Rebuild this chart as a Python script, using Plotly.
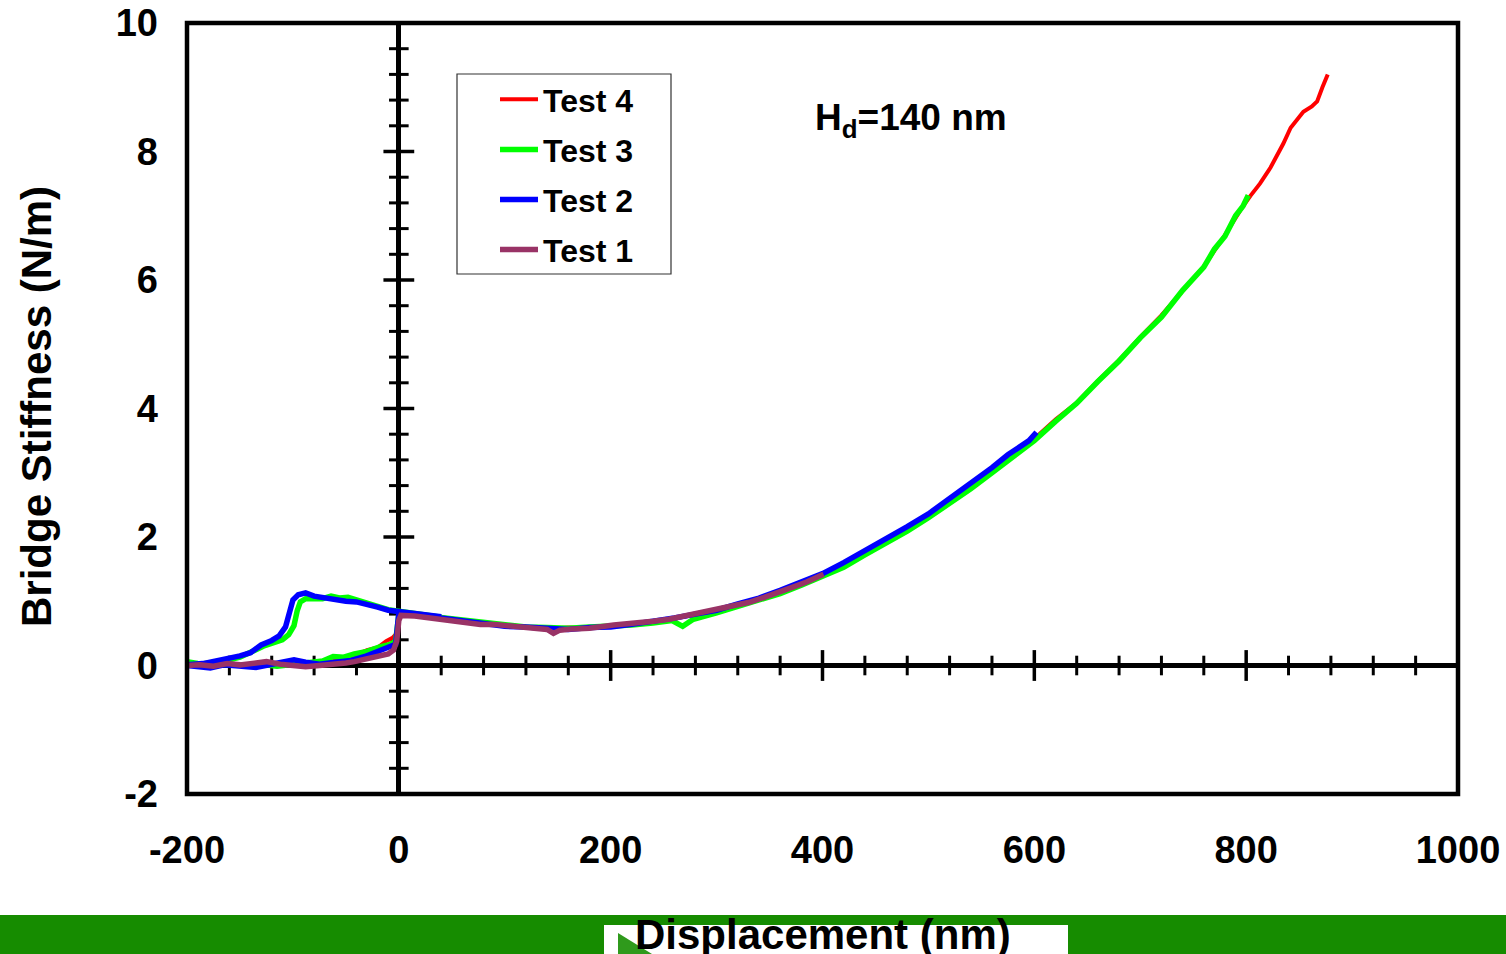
import plotly.graph_objects as go

# ---------------- data ----------------
t4_x = [-200, -185, -170, -155, -140, -125, -110, -95, -80, -65, -50, -40, -30, -20, -12, -6, -2, 0,
        10, 20, 40, 60, 80, 100, 120, 140, 160, 180, 200, 220, 240, 260, 280, 300, 320, 340, 360, 380,
        400, 420, 440, 460, 480, 500, 520, 540, 560, 580, 600, 620, 640, 660, 680, 700, 720, 740, 760,
        780, 795, 804, 813, 823, 835, 842, 848, 854, 862, 867, 872, 877]
t4_y = [0.03, 0.01, 0.03, 0.00, -0.02, 0.01, 0.02, 0.00, 0.03, 0.05, 0.12, 0.17, 0.24, 0.28, 0.38, 0.43, 0.50, 0.78,
        0.79, 0.76, 0.73, 0.69, 0.64, 0.62, 0.59, 0.57, 0.59, 0.58, 0.61, 0.64, 0.68, 0.73, 0.79, 0.86, 0.95, 1.03, 1.14, 1.27,
        1.40, 1.57, 1.74, 1.93, 2.12, 2.34, 2.56, 2.77, 3.04, 3.28, 3.53, 3.83, 4.09, 4.43, 4.75, 5.11, 5.45, 5.83, 6.21,
        6.70, 7.10, 7.31, 7.50, 7.75, 8.12, 8.37, 8.50, 8.62, 8.70, 8.78, 9.00, 9.20]

t3_x = [-200, -190, -175, -160, -145, -130, -115, -100, -85, -72, -62, -52, -42, -30, -18, -8, -3, 0,
        10, 25, 40, 60, 80, 100, 120, 140, 160, 180, 200, 220, 240, 258, 268, 278, 300, 320, 340, 360, 380,
        400, 420, 440, 460, 480, 500, 520, 540, 560, 580, 600, 620, 640, 660, 680, 700, 720, 740, 760,
        770, 780, 790, 797, 802]
t3_y = [0.06, 0.03, 0.01, 0.02, 0.00, 0.02, -0.01, 0.02, 0.04, 0.07, 0.14, 0.13, 0.18, 0.22, 0.29, 0.33, 0.38, 0.80,
        0.80, 0.77, 0.74, 0.70, 0.66, 0.63, 0.60, 0.59, 0.58, 0.60, 0.61, 0.63, 0.66, 0.70, 0.61, 0.72, 0.82, 0.92, 1.01, 1.12, 1.25,
        1.38, 1.53, 1.72, 1.90, 2.09, 2.30, 2.52, 2.75, 3.00, 3.25, 3.50, 3.80, 4.08, 4.42, 4.74, 5.10, 5.42, 5.84, 6.20,
        6.48, 6.68, 7.00, 7.15, 7.32]
t3_ret_x = [40, 20, 0, -10, -20, -30, -40, -48, -56, -64, -72, -80, -88, -93, -96, -99, -104, -110, -118,
            -128, -138, -150, -162, -175, -188, -200]
t3_ret_y = [0.75, 0.80, 0.85, 0.87, 0.92, 0.97, 1.03, 1.06, 1.05, 1.08, 1.04, 1.05, 1.04, 0.99, 0.85, 0.62, 0.48, 0.40, 0.36,
            0.30, 0.22, 0.13, 0.08, 0.04, 0.02, 0.03]

t2_x = [-200, -190, -178, -165, -150, -135, -120, -108, -99, -88, -75, -60, -45, -32, -24, -15, -8, -3, 0,
        10, 25, 40, 60, 80, 100, 120, 140, 160, 180, 200, 220, 240, 260, 280, 300, 320, 340, 360, 380,
        400, 420, 440, 460, 480, 500, 520, 540, 560, 575, 585, 595, 602]
t2_y = [0.00, -0.02, -0.04, 0.01, -0.01, -0.03, 0.02, 0.05, 0.09, 0.05, 0.02, 0.05, 0.08, 0.14, 0.19, 0.24, 0.28, 0.33, 0.82,
        0.81, 0.78, 0.74, 0.69, 0.65, 0.61, 0.60, 0.57, 0.56, 0.59, 0.60, 0.64, 0.68, 0.74, 0.80, 0.86, 0.96, 1.05, 1.17, 1.30,
        1.43, 1.60, 1.78, 1.96, 2.16, 2.36, 2.60, 2.83, 3.08, 3.28, 3.38, 3.50, 3.63]
t2_ret_x = [40, 20, 0, -10, -20, -30, -40, -50, -60, -70, -80, -88, -95, -100, -103, -107, -113, -120,
            -130, -140, -150, -160, -170, -185, -200]
t2_ret_y = [0.76, 0.80, 0.84, 0.86, 0.91, 0.96, 0.99, 1.00, 1.02, 1.05, 1.08, 1.13, 1.10, 1.02, 0.80, 0.60, 0.46, 0.39,
            0.32, 0.20, 0.15, 0.11, 0.07, 0.03, 0.01]

t1_x = [-200, -188, -175, -162, -150, -138, -125, -112, -100, -88, -75, -62, -50, -42, -33, -24, -16, -10, -5, -2, 0, 2,
        15, 30, 45, 60, 77, 90, 105, 118, 132, 140, 146, 152, 165, 180, 203, 220, 240, 255, 266, 280, 297,
        315, 330, 345, 354, 360, 372, 385, 395, 401]
t1_y = [0.00, 0.01, -0.01, 0.03, 0.01, 0.04, 0.06, 0.02, 0.00, -0.02, 0.00, 0.01, 0.04, 0.06, 0.09, 0.12, 0.15, 0.18, 0.24, 0.38, 0.70, 0.78,
        0.77, 0.74, 0.71, 0.68, 0.64, 0.64, 0.62, 0.61, 0.58, 0.56, 0.50, 0.55, 0.57, 0.58, 0.63, 0.65, 0.69, 0.72, 0.76, 0.79, 0.86,
        0.92, 0.98, 1.06, 1.12, 1.15, 1.22, 1.30, 1.37, 1.42]

x_ticks = [-200, 0, 200, 400, 600, 800, 1000]
y_ticks = [-2, 0, 2, 4, 6, 8, 10]
x_major_marks = [200, 400, 600, 800]
x_minor_step = 40
y_major_marks = [2, 4, 6, 8]
y_minor_step = 0.4

# ---------------- layout helpers (pixels -> paper) ----------------
W, H = 1506, 954
L, R, T, B = 187, 1458, 23, 794


def pxx(p):
    return (p - L) / (R - L)


def pxy(p):
    return (B - p) / (B - T)


FONT = "Liberation Sans, Arial, sans-serif"

fig = go.Figure()

# tick marks on the zero axes
x_minor_marks = [v for v in range(-200 + x_minor_step, 1000, x_minor_step) if v not in x_major_marks and v != 0]
y_minor_marks = [round(-2 + y_minor_step * i, 1) for i in range(1, 30)]
y_minor_marks = [v for v in y_minor_marks if abs(v / 2 - round(v / 2)) > 1e-6]

fig.add_trace(go.Scatter(x=x_major_marks, y=[0] * len(x_major_marks), mode="markers",
                         marker=dict(symbol="line-ns", size=22, line=dict(width=3.5, color="black")),
                         showlegend=False, hoverinfo="skip"))
fig.add_trace(go.Scatter(x=x_minor_marks, y=[0] * len(x_minor_marks), mode="markers",
                         marker=dict(symbol="line-ns", size=14, line=dict(width=3, color="black")),
                         showlegend=False, hoverinfo="skip"))
fig.add_trace(go.Scatter(x=[0] * len(y_major_marks), y=y_major_marks, mode="markers",
                         marker=dict(symbol="line-ew", size=22, line=dict(width=3.5, color="black")),
                         showlegend=False, hoverinfo="skip"))
fig.add_trace(go.Scatter(x=[0] * len(y_minor_marks), y=y_minor_marks, mode="markers",
                         marker=dict(symbol="line-ew", size=14, line=dict(width=3, color="black")),
                         showlegend=False, hoverinfo="skip"))

fig.add_trace(go.Scatter(x=t4_x, y=t4_y, mode="lines", name="Test 4", legendgroup="t4",
                         line=dict(color="#FF0000", width=4)))
fig.add_trace(go.Scatter(x=t3_x + [None] + t3_ret_x, y=t3_y + [None] + t3_ret_y, mode="lines",
                         name="Test 3", legendgroup="t3", line=dict(color="#00FF00", width=5.5)))
fig.add_trace(go.Scatter(x=t2_x + [None] + t2_ret_x, y=t2_y + [None] + t2_ret_y, mode="lines",
                         name="Test 2", legendgroup="t2", line=dict(color="#0000FF", width=5.5)))
fig.add_trace(go.Scatter(x=t1_x, y=t1_y, mode="lines", name="Test 1", legendgroup="t1",
                         line=dict(color="#993366", width=5.5)))

axis_font = dict(family=FONT, size=38, color="black", weight="bold")

fig.update_xaxes(range=[-200, 1000], tickvals=x_ticks, ticktext=[str(v) for v in x_ticks],
                 tickfont=axis_font, ticks="", ticklabelstandoff=30, showgrid=False, automargin=False,
                 showline=False, zeroline=True, zerolinecolor="black", zerolinewidth=4.5)
fig.update_yaxes(range=[-2, 10], tickvals=y_ticks, ticktext=[str(v) for v in y_ticks],
                 tickfont=axis_font, ticks="", ticklabelstandoff=28, showgrid=False, automargin=False,
                 showline=False, zeroline=True, zerolinecolor="black", zerolinewidth=4.5)

shapes = [
    # plot frame
    dict(type="rect", xref="paper", yref="paper", x0=0, x1=1, y0=0, y1=1,
         line=dict(color="black", width=4.5), layer="above"),
    # legend box
    dict(type="rect", xref="paper", yref="paper", x0=pxx(457), x1=pxx(671), y0=pxy(274), y1=pxy(74),
         line=dict(color="#333333", width=1.2), fillcolor="rgba(0,0,0,0)", layer="above"),
    # green slide band at the bottom
    dict(type="rect", xref="paper", yref="paper", x0=pxx(0), x1=pxx(W), y0=pxy(H), y1=pxy(915),
         line=dict(width=0), fillcolor="#168c00", layer="above"),
    dict(type="rect", xref="paper", yref="paper", x0=pxx(604), x1=pxx(1068), y0=pxy(H), y1=pxy(925),
         line=dict(width=0), fillcolor="white", layer="above"),
    dict(type="path", xref="paper", yref="paper",
         path=f"M{pxx(618)},{pxy(933)} L{pxx(652)},{pxy(H)} L{pxx(618)},{pxy(H)} Z",
         line=dict(width=0), fillcolor="#2f9a1c", layer="above"),
]

annotations = [
    dict(xref="paper", yref="paper", x=pxx(823), y=pxy(934), text="Displacement (nm)", showarrow=False,
         xanchor="center", yanchor="middle", font=dict(family=FONT, size=42, color="black", weight="bold")),
    dict(xref="paper", yref="paper", x=pxx(36), y=pxy(407), text="Bridge Stiffness (N/m)", showarrow=False,
         textangle=-90, xanchor="center", yanchor="middle",
         font=dict(family=FONT, size=42, color="black", weight="bold")),
    dict(xref="paper", yref="paper", x=pxx(911), y=pxy(120), text="H<sub>d</sub>=140 nm", showarrow=False,
         xanchor="center", yanchor="middle", font=dict(family=FONT, size=37, color="black", weight="bold")),
]

fig.update_layout(
    width=W, height=H,
    margin=dict(l=L, r=W - R, t=T, b=H - B, autoexpand=False),
    paper_bgcolor="white", plot_bgcolor="white",
    showlegend=True,
    legend=dict(x=pxx(495), y=pxy(72), xanchor="left", yanchor="top", bgcolor="rgba(0,0,0,0)",
                borderwidth=0, traceorder="grouped", tracegroupgap=5.5, itemwidth=38,
                font=dict(family=FONT, size=32, color="black", weight="bold")),
    shapes=shapes, annotations=annotations,
)

fig.write_html("out.html")
